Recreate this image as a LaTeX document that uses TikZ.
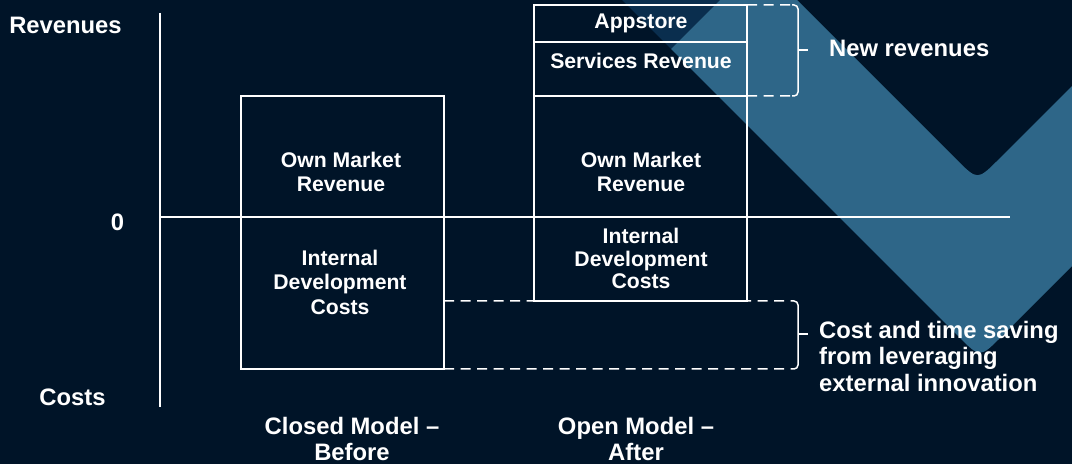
\documentclass[tikz,border=0pt]{standalone}
\usepackage{fontspec}
\setmainfont{Liberation Sans}
\definecolor{bg}{HTML}{001428}
\definecolor{bandlight}{HTML}{2E6688}
\definecolor{banddark}{HTML}{0A2E4E}
\begin{document}
\begin{tikzpicture}[x=1bp,y=-1bp,
  line/.style={draw=white,line width=1.5bp},
  box/.style={line,rectangle,inner sep=0pt,outer sep=0pt},
  dashline/.style={draw=white,line width=1.5bp,dash pattern=on 10bp off 6.5bp},
  lbl/.style={text=white,font=\fontsize{23.8bp}{26.5bp}\selectfont\bfseries,inner sep=0pt},
  btxt/.style={text=white,font=\fontsize{21.2bp}{24bp}\selectfont\bfseries,inner sep=0pt,align=center}]
\useasboundingbox (0,0) rectangle (1072,464);
\fill[bg] (0,0) rectangle (1072,464);
\begin{scope}
  \clip (0,0) rectangle (1072,464);
  \fill[banddark] (622,0) -- (720,0) -- (671,49) -- cycle;
  \fill[bandlight] (671,49) -- (758.5,-38.5) -- (956.3,159.3) .. controls (977.5,180.5) .. (998.7,159.3)
     -- (1200,-42) -- (1200,138) -- (1001.2,336.8) .. controls (980,358) .. (958.8,336.8) -- cycle;
\end{scope}

% axes
\coordinate (axtop) at (160,13);
\coordinate (axbot) at (160,407);
\coordinate (zl) at (160,217);
\coordinate (zr) at (1010,217);
\draw[line] (axtop) -- (axbot);
\draw[line] (zl) -- (zr);

% boxes
\node[box,minimum width=203bp,minimum height=121bp] (closedA) at (342.5,156.5) {};
\node[box,minimum width=203bp,minimum height=152bp] (closedB) at (342.5,293) {};
\node[box,minimum width=213bp,minimum height=37bp] (openA) at (640.5,23.5) {};
\node[box,minimum width=213bp,minimum height=54bp] (openB) at (640.5,69) {};
\node[box,minimum width=213bp,minimum height=121bp] (openC) at (640.5,156.5) {};
\node[box,minimum width=213bp,minimum height=84bp] (openD) at (640.5,259) {};

% box texts
\node[btxt] (tclosedA) at (341,172) {Own Market\\Revenue};
\node[btxt,font=\fontsize{21.2bp}{24.5bp}\selectfont\bfseries] (tclosedB) at (340,282) {Internal\\Development\\Costs};
\node[btxt] (topenA) at (641,23) {Appstore};
\node[btxt] (topenB) at (641,61) {Services Revenue};
\node[btxt] (topenC) at (641,172) {Own Market\\Revenue};
\node[btxt,font=\fontsize{21.2bp}{22.5bp}\selectfont\bfseries] (topenD) at (641,258.5) {Internal\\Development\\Costs};

% axis labels
\node[lbl] (rev) at (65.5,25) {Revenues};
\node[lbl] (zero) at (117.5,222) {0};
\node[lbl] (cost) at (72.5,397) {Costs};
\node[lbl,align=center] (closedlbl) at (352,439) {Closed Model --\\Before};
\node[lbl,align=center] (openlbl) at (636,439) {Open Model --\\After};

% brackets
\coordinate (u1) at (792,5);
\coordinate (u2) at (792,96);
\coordinate (l1) at (792,301);
\coordinate (l2) at (792,369);
\draw[dashline] (openA.north east) -- (u1);
\draw[dashline] (openB.south east) -- (u2);
\draw[dashline] (closedB.east |- openD.south) -- (l1);
\draw[dashline] (closedB.south east) -- (l2);
\draw[line,rounded corners=4bp] (u1) -- (798,5) -- (798,96) -- (u2);
\draw[line,rounded corners=4bp] (l1) -- (798,301) -- (798,369) -- (l2);
\coordinate (ut) at (798,50);
\coordinate (lt) at (798,334);
\draw[line] (ut) -- ++(10,0) coordinate (ute);
\draw[line] (lt) -- ++(10,0) coordinate (lte);

\node[lbl,anchor=west] (newrev) at (829,48) {New revenues};
\node[lbl,anchor=west,align=left] (saving) at (819,356) {Cost and time saving\\from leveraging\\external innovation};
\end{tikzpicture}
\end{document}
